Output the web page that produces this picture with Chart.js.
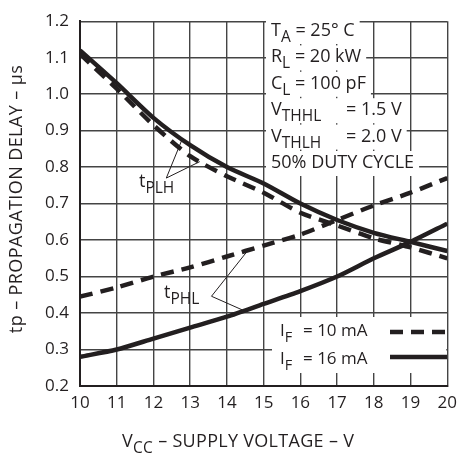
<!DOCTYPE html>
<html>
<head>
<meta charset="utf-8">
<script src="https://cdn.jsdelivr.net/npm/chart.js@4/dist/chart.umd.min.js"></script>
<style>
  html, body { margin: 0; padding: 0; background: #fff; }
  #wrap { width: 464px; height: 455px; }
</style>
</head>
<body>
<div id="wrap"><canvas id="myChart" width="464" height="455"></canvas></div>
<script>
// supply voltage (V)
const vcc = [10, 11, 12, 13, 14, 15, 16, 17, 18, 19, 20];
// propagation delay (us)
const tplh10 = [1.11, 1.015, 0.915, 0.83, 0.775, 0.73, 0.675, 0.64, 0.605, 0.58, 0.55];
const tplh16 = [1.12, 1.03, 0.935, 0.86, 0.80, 0.755, 0.70, 0.655, 0.62, 0.595, 0.57];
const tphl10 = [0.445, 0.47, 0.50, 0.525, 0.555, 0.585, 0.615, 0.655, 0.695, 0.73, 0.77];
const tphl16 = [0.28, 0.30, 0.33, 0.36, 0.39, 0.425, 0.46, 0.50, 0.55, 0.595, 0.645];

const FONT = "'Open Sans', 'Noto Sans', sans-serif";
const INK = '#231f20';

// text made of pieces, some of them subscripts
function drawParts(ctx, parts, x, y, size, draw) {
  let cx = x;
  parts.forEach(p => {
    const sub = p[1];
    ctx.font = (sub ? size - 2.5 : size) + 'px ' + FONT;
    if (draw !== false) ctx.fillText(p[0], cx, sub ? y + 6 : y);
    cx += ctx.measureText(p[0]).width;
  });
  return cx;
}

const notes = [
  [[['T'], ['A', 1], [' = 25° C']], null],
  [[['R'], ['L', 1], [' = 20 kW']], null],
  [[['C'], ['L', 1], [' = 100 pF']], null],
  [[['V'], ['THHL', 1]], '= 1.5 V'],
  [[['V'], ['THLH', 1]], '= 2.0 V'],
  [[['50% DUTY CYCLE']], null]
];
const NOTE_SIZE = 18;
const noteBase = i => 36 + i * 26.4;

function noteEnd(ctx, n, i, draw) {
  let end = drawParts(ctx, n[0], 271, noteBase(i), NOTE_SIZE, draw);
  if (n[1]) end = drawParts(ctx, [[n[1]]], 346, noteBase(i), NOTE_SIZE, draw);
  return end;
}

const annotations = {
  id: 'annotations',
  afterDraw(chart) {
    const ctx = chart.ctx;
    const a = chart.chartArea;
    const xs = chart.scales.x, ys = chart.scales.y;
    const px = v => xs.getPixelForValue(v);
    const py = v => ys.getPixelForValue(v);
    ctx.save();

    // white patches where the grid is broken for the text
    ctx.fillStyle = '#fff';
    notes.forEach((n, i) => {
      const end = noteEnd(ctx, n, i, false);
      ctx.fillRect(266, noteBase(i) - 17, end - 266 + 5, 25);
    });
    ctx.fillRect(272, 317, a.right - 273, 56);

    ctx.fillStyle = INK;
    ctx.strokeStyle = INK;
    ctx.textBaseline = 'alphabetic';
    ctx.textAlign = 'left';

    // test conditions
    notes.forEach((n, i) => noteEnd(ctx, n, i, true));

    // legend
    drawParts(ctx, [['I'], ['F', 1]], 280, 336, 17);
    drawParts(ctx, [['= 10 mA']], 303, 336, 17);
    drawParts(ctx, [['I'], ['F', 1]], 280, 364, 17);
    drawParts(ctx, [['= 16 mA']], 303, 364, 17);
    ctx.lineWidth = 4.5;
    ctx.setLineDash([13, 8]);
    ctx.beginPath(); ctx.moveTo(390, 332); ctx.lineTo(447, 332); ctx.stroke();
    ctx.setLineDash([]);
    ctx.beginPath(); ctx.moveTo(390, 357); ctx.lineTo(447, 357); ctx.stroke();

    // curve labels with leader lines
    drawParts(ctx, [['t'], ['PLH', 1]], 139, 187, 18);
    drawParts(ctx, [['t'], ['PHL', 1]], 164, 298, 18);
    ctx.lineWidth = 1;
    ctx.beginPath();
    ctx.moveTo(px(12.78), py(0.876)); ctx.lineTo(px(12.35), py(0.77)); ctx.lineTo(px(13.26), py(0.815));
    ctx.moveTo(px(14.55), py(0.569)); ctx.lineTo(px(13.58), py(0.446)); ctx.lineTo(px(14.41), py(0.409));
    ctx.stroke();

    // axis titles
    ctx.font = '18px ' + FONT;
    ctx.save();
    ctx.translate(22, 199);
    ctx.rotate(-Math.PI / 2);
    ctx.textAlign = 'center';
    ctx.letterSpacing = '0.4px';
    ctx.fillText('tp – PROPAGATION DELAY – µs', 0, 0);
    ctx.restore();
    ctx.letterSpacing = '0.3px';
    drawParts(ctx, [['V'], ['CC', 1], [' – SUPPLY VOLTAGE – V']], 122, 447, 18);
    ctx.restore();
  }
};

const ctx = document.getElementById('myChart').getContext('2d');
new Chart(ctx, {
  type: 'line',
  data: {
    datasets: [
      { data: vcc.map((v, i) => ({ x: v, y: tplh10[i] })), borderDash: [13, 8] },
      { data: vcc.map((v, i) => ({ x: v, y: tplh16[i] })) },
      { data: vcc.map((v, i) => ({ x: v, y: tphl10[i] })), borderDash: [13, 8] },
      { data: vcc.map((v, i) => ({ x: v, y: tphl16[i] })) }
    ]
  },
  options: {
    responsive: false,
    animation: false,
    layout: { padding: { top: 12, right: 10, left: 0, bottom: 0 } },
    elements: {
      line: { borderColor: INK, borderWidth: 4.5, tension: 0.25, fill: false },
      point: { radius: 0 }
    },
    scales: {
      x: {
        type: 'linear',
        min: 10, max: 20,
        afterFit: s => { s.height = 69; },
        grid: { color: '#444', lineWidth: 1.4, drawTicks: false },
        border: { color: INK, width: 2 },
        ticks: {
          stepSize: 1, padding: 7, color: INK,
          font: { family: FONT, size: 17 }
        }
      },
      y: {
        min: 0.2, max: 1.2,
        afterFit: s => { s.width = 80; },
        grid: { color: '#444', lineWidth: 1.4, drawTicks: false },
        border: { color: INK, width: 2 },
        ticks: {
          stepSize: 0.1, padding: 11, color: INK,
          font: { family: FONT, size: 17 },
          callback: v => v.toFixed(1)
        }
      }
    },
    plugins: {
      legend: { display: false },
      tooltip: { enabled: false }
    }
  },
  plugins: [annotations]
});
</script>
</body>
</html>
